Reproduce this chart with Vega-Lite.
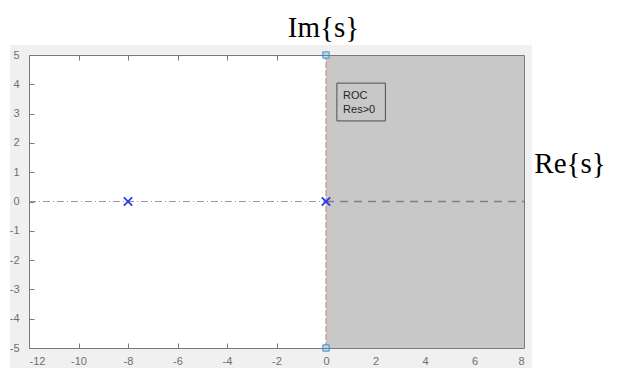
{
  "$schema": "https://vega.github.io/schema/vega-lite/v6.json",
  "width": 495,
  "height": 293,
  "autosize": "none",
  "padding": {"left": 29, "top": 55, "right": 95, "bottom": 20},
  "background": "white",
  "config": {
    "view": {"stroke": null},
    "font": "Liberation Sans"
  },
  "resolve": {"axis": {"x": "independent", "y": "independent"}},
  "layer": [
    {
      "data": {"values": [{"re1": -12.77, "re2": 8.32, "im1": -5.7, "im2": 5.34}]},
      "mark": {"type": "rect", "color": "#f0f0f0", "clip": false},
      "encoding": {
        "x": {"field": "re1", "type": "quantitative", "scale": {"domain": [-12, 8], "nice": false, "zero": false}, "axis": null},
        "x2": {"field": "re2"},
        "y": {"field": "im1", "type": "quantitative", "scale": {"domain": [-5, 5], "nice": false, "zero": false}, "axis": null},
        "y2": {"field": "im2"}
      }
    },
    {
      "data": {"values": [
        {"kind": "LHP", "re1": -12, "re2": 0, "im1": -5, "im2": 5},
        {"kind": "ROC", "re1": 0, "re2": 8, "im1": -5, "im2": 5}
      ]},
      "mark": {"type": "rect", "stroke": null},
      "encoding": {
        "x": {"field": "re1", "type": "quantitative",
          "axis": {"orient": "bottom", "values": [-12, -10, -8, -6, -4, -2, 0, 2, 4, 6, 8], "title": null, "zindex": 1,
            "labelExpr": "'' + datum.value",
            "domainColor": "#7a7a7a", "tickSize": -5,
            "tickColor": {"condition": {"test": "datum.value >= 0", "value": "transparent"}, "value": "#7a7a7a"},
            "labelColor": "#6e6e6e", "labelFontSize": 11, "labelPadding": 12, "labelFont": "Liberation Sans", "grid": false}},
        "x2": {"field": "re2"},
        "y": {"field": "im1", "type": "quantitative",
          "axis": {"orient": "left", "values": [-5, -4, -3, -2, -1, 0, 1, 2, 3, 4, 5], "title": null, "zindex": 1,
            "labelExpr": "'' + datum.value",
            "domainColor": "#7a7a7a", "tickSize": -5, "tickColor": "#7a7a7a",
            "labelColor": "#6e6e6e", "labelFontSize": 11, "labelPadding": 15, "labelFont": "Liberation Sans", "grid": false}},
        "y2": {"field": "im2"},
        "fill": {"field": "kind", "type": "nominal", "scale": {"domain": ["LHP", "ROC"], "range": ["#ffffff", "#c8c8c8"]}, "legend": null}
      }
    },
    {
      "data": {"values": [{"re1": -12, "re2": 0, "im": 0}]},
      "mark": {"type": "rule", "stroke": "#9a9a9a", "strokeWidth": 1, "strokeDash": [7, 3, 1, 3]},
      "encoding": {
        "x": {"field": "re1", "type": "quantitative", "axis": null},
        "x2": {"field": "re2"},
        "y": {"field": "im", "type": "quantitative", "axis": null}
      }
    },
    {
      "data": {"values": [{"re1": 0, "re2": 8, "im": 0}]},
      "mark": {"type": "rule", "stroke": "#808080", "strokeWidth": 1.5, "strokeDash": [8, 6]},
      "encoding": {
        "x": {"field": "re1", "type": "quantitative", "axis": null},
        "x2": {"field": "re2"},
        "y": {"field": "im", "type": "quantitative", "axis": null}
      }
    },
    {
      "data": {"values": [{"re": 0, "im1": -5, "im2": 5}]},
      "mark": {"type": "rule", "stroke": "#c8836e", "strokeWidth": 1, "strokeDash": [6, 2]},
      "encoding": {
        "x": {"field": "re", "type": "quantitative", "axis": null},
        "y": {"field": "im1", "type": "quantitative", "axis": null},
        "y2": {"field": "im2"}
      }
    },
    {
      "data": {"values": [{"re": -8, "im": 0}, {"re": 0, "im": 0}]},
      "mark": {"type": "point", "shape": "M-1,-1L1,1M-1,1L1,-1", "filled": false, "stroke": "#2a3ee6", "strokeWidth": 1.8, "size": 70, "opacity": 1},
      "encoding": {
        "x": {"field": "re", "type": "quantitative", "axis": null},
        "y": {"field": "im", "type": "quantitative", "axis": null}
      }
    },
    {
      "data": {"values": [{"re": 0, "im": 5}, {"re": 0, "im": -5}]},
      "mark": {"type": "point", "shape": "square", "filled": true, "fill": "#b2dbf7", "stroke": "#3f8fd2", "strokeWidth": 1, "size": 40, "opacity": 1},
      "encoding": {
        "x": {"field": "re", "type": "quantitative", "axis": null},
        "y": {"field": "im", "type": "quantitative", "axis": null}
      }
    },
    {
      "data": {"values": [{"re1": 0.44, "re2": 2.4, "im1": 2.75, "im2": 4.04}]},
      "mark": {"type": "rect", "fill": null, "stroke": "#4d4d4d", "strokeWidth": 1},
      "encoding": {
        "x": {"field": "re1", "type": "quantitative",
          "axis": {"orient": "top", "values": [-12, -10, -8, -6, -4, -2, 0, 2, 4, 6, 8], "title": null, "labels": false, "zindex": 1,
            "domainColor": "#7a7a7a", "tickSize": -5,
            "tickColor": {"condition": {"test": "datum.value >= 0", "value": "transparent"}, "value": "#7a7a7a"}, "grid": false}},
        "x2": {"field": "re2"},
        "y": {"field": "im1", "type": "quantitative",
          "axis": {"orient": "right", "title": null, "labels": false, "ticks": false, "zindex": 1, "domainColor": "#7a7a7a", "grid": false}},
        "y2": {"field": "im2"}
      }
    },
    {
      "data": {"values": [{"label": "ROC", "re": 0.69, "im": 3.6}, {"label": "Res>0", "re": 0.69, "im": 3.12}]},
      "mark": {"type": "text", "align": "left", "baseline": "middle", "font": "Liberation Sans", "fontSize": 11, "color": "#262626"},
      "encoding": {
        "x": {"field": "re", "type": "quantitative", "axis": null},
        "y": {"field": "im", "type": "quantitative", "axis": null},
        "text": {"field": "label"}
      }
    },
    {
      "data": {"values": [{"label": "Im{s}", "re": -0.1, "im": 5.92}, {"label": "Re{s}", "re": 9.86, "im": 1.28}]},
      "mark": {"type": "text", "align": "center", "baseline": "middle", "font": "Liberation Serif", "fontSize": 29, "color": "#000000"},
      "encoding": {
        "x": {"field": "re", "type": "quantitative", "axis": null},
        "y": {"field": "im", "type": "quantitative", "axis": null},
        "text": {"field": "label"}
      }
    }
  ]
}
